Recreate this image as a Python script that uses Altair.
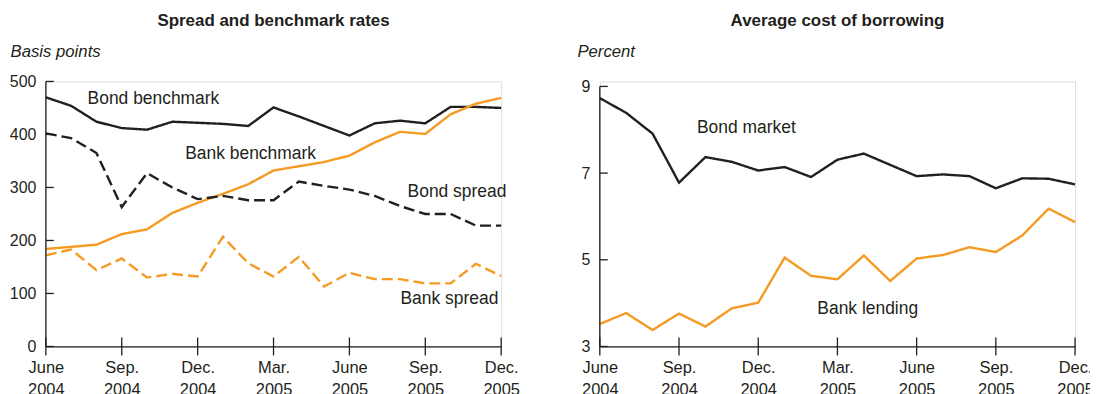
import altair as alt
import pandas as pd

INK = "#231f20"
ORANGE = "#f59a23"
FONT = "Liberation Sans"

# Monthly observations, June 2004 .. December 2005
months = ["2004-06", "2004-07", "2004-08", "2004-09", "2004-10", "2004-11", "2004-12",
          "2005-01", "2005-02", "2005-03", "2005-04", "2005-05", "2005-06", "2005-07",
          "2005-08", "2005-09", "2005-10", "2005-11", "2005-12"]
month_idx = list(range(len(months)))

# Left panel (basis points)
bond_benchmark = [470, 454, 424, 412, 409, 424, 422, 420, 416, 451, 434, 416, 398, 421, 426, 421, 452, 452, 450]
bank_benchmark = [184, 188, 192, 212, 221, 252, 271, 288, 306, 332, 340, 348, 360, 385, 405, 401, 438, 458, 469]
bond_spread = [402, 393, 365, 263, 327, 300, 278, 284, 276, 276, 311, 303, 296, 284, 265, 250, 250, 228, 228]
bank_spread = [172, 183, 144, 166, 130, 137, 132, 207, 157, 132, 169, 113, 139, 127, 127, 119, 119, 156, 133]

# Right panel (percent)
bond_market = [8.73, 8.39, 7.91, 6.78, 7.37, 7.26, 7.06, 7.14, 6.91, 7.31, 7.45, 7.19, 6.93, 6.97, 6.93, 6.65, 6.88, 6.87, 6.74]
bank_lending = [3.52, 3.77, 3.38, 3.76, 3.46, 3.88, 4.01, 5.05, 4.63, 4.55, 5.10, 4.51, 5.03, 5.11, 5.29, 5.18, 5.56, 6.18, 5.87]

# Axis ticks
tick_idx = [0, 3, 6, 9, 12, 15, 18]
tick_months = ["June", "Sep.", "Dec.", "Mar.", "June", "Sep.", "Dec."]
tick_years = ["2004", "2004", "2004", "2005", "2005", "2005", "2005"]
left_yticks = [0, 100, 200, 300, 400, 500]
right_yticks = [3, 5, 7, 9]

# Line labels (text, month position, value position)
left_labels = ["Bond benchmark", "Bank benchmark", "Bond spread", "Bank spread"]
left_label_t = [1.65, 5.51, 14.3, 14.02]
left_label_v = [467, 363, 291, 90]
right_labels = ["Bond market", "Bank lending"]
right_label_t = [3.68, 8.24]
right_label_v = [8.03, 3.87]

label_arr = "[" + ",".join(f"['{m}','{y}']" for m, y in zip(tick_months, tick_years)) + "]"
label_expr = f"{label_arr}[round(datum.value/3)]"

HEIGHT = 266


def make_panel(title, unit, series_names, series_vals, colors, dashes, ydomain, yticks,
               labels, label_t, label_v, width, title_x, title_y):
    df = pd.concat([
        pd.DataFrame({"t": month_idx, "value": vals, "series": name, "month": months})
        for name, vals in zip(series_names, series_vals)
    ])
    xaxis = alt.Axis(values=tick_idx, labelExpr=label_expr, ticks=False, grid=False, title=None,
                     domainColor=INK, domainWidth=1.3, labelFontSize=16.5, labelColor=INK,
                     labelPadding=13, labelLineHeight=22, labelFlush=False, labelOverlap=False,
                     labelFont=FONT)
    yaxis = alt.Axis(values=yticks, ticks=False, grid=False, domain=False,
                     labelFontSize=16, labelColor=INK, labelPadding=10, labelFlush=False,
                     labelOverlap=False, labelFont=FONT,
                     title=unit, titleAngle=0, titleX=title_x, titleY=title_y, titleAlign="left",
                     titleBaseline="middle", titleFontStyle="italic", titleFontWeight="normal",
                     titleFontSize=16.8, titleColor=INK, titleFont=FONT)
    X = lambda f: alt.X(f, scale=alt.Scale(domain=[0, 18], nice=False, zero=False), axis=xaxis)
    Y = lambda f: alt.Y(f, scale=alt.Scale(domain=ydomain, nice=False, zero=False), axis=yaxis)

    lines = alt.Chart(df).mark_line(strokeWidth=2.4, strokeCap="butt").encode(
        x=X("t:Q"), y=Y("value:Q"),
        color=alt.Color("series:N", scale=alt.Scale(domain=series_names, range=colors), legend=None),
        strokeDash=alt.StrokeDash("series:N", scale=alt.Scale(domain=series_names, range=dashes), legend=None),
        detail="series:N",
    )
    # y axis line spanning the labelled range only
    ydom = alt.Chart(pd.DataFrame({"value": [min(yticks)], "value2": [max(yticks)]})).mark_rule(
        color=INK, strokeWidth=1.3).encode(y=Y("value:Q"), y2="value2:Q", x=alt.value(0))
    xt = alt.Chart(pd.DataFrame({"t": tick_idx})).mark_rule(color=INK, strokeWidth=1.3).encode(
        x=X("t:Q"), y=alt.value(HEIGHT - 9), y2=alt.value(HEIGHT + 9)
    )
    yt = alt.Chart(pd.DataFrame({"value": yticks})).mark_rule(color=INK, strokeWidth=1.3).encode(
        y=Y("value:Q"), x=alt.value(0), x2=alt.value(8)
    )
    txt = alt.Chart(pd.DataFrame({"t": label_t, "value": label_v, "label": labels})).mark_text(
        align="left", baseline="middle", fontSize=17.5, color=INK, font=FONT
    ).encode(x=X("t:Q"), y=Y("value:Q"), text="label:N")

    return alt.layer(lines, ydom, xt, yt, txt).properties(
        width=width, height=HEIGHT,
        title=alt.TitleParams(title, fontSize=17, fontWeight="bold", color=INK, font=FONT,
                              frame="group", anchor="middle", offset=14),
    )


left = make_panel("Spread and benchmark rates", "Basis points",
                  ["Bond benchmark", "Bank benchmark", "Bond spread", "Bank spread"],
                  [bond_benchmark, bank_benchmark, bond_spread, bank_spread],
                  [INK, ORANGE, INK, ORANGE], [[1, 0], [1, 0], [11, 5], [11, 5]],
                  [0, 500], left_yticks, left_labels, left_label_t, left_label_v,
                  457, -36, -30)
right = make_panel("Average cost of borrowing", "Percent",
                   ["Bond market", "Bank lending"],
                   [bond_market, bank_lending],
                   [INK, ORANGE], [[1, 0], [1, 0]],
                   [3, 9.115], right_yticks, right_labels, right_label_t, right_label_v,
                   477, -23, -30)

chart = alt.hconcat(left, right, spacing=56).properties(
    padding={"left": 0, "top": 2, "right": -4, "bottom": 0}
).configure_view(stroke=None).configure(font=FONT)

chart.save("out.html", embed_options={"renderer": "svg", "actions": False})
